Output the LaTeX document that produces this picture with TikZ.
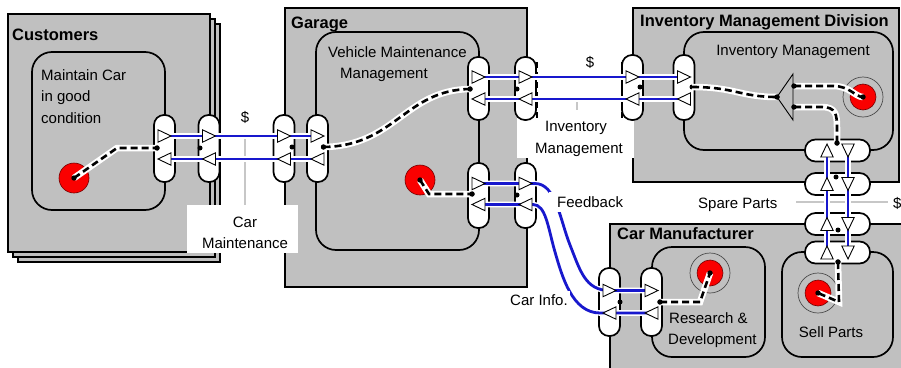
\documentclass[tikz,border=0pt]{standalone}
\usepackage{fontspec}
\setmainfont{Liberation Sans}
\usetikzlibrary{calc}
\definecolor{boxgray}{RGB}{192,192,192}
\definecolor{flowblue}{RGB}{24,24,205}
\definecolor{tgtred}{RGB}{250,0,0}

\begin{document}
\begin{tikzpicture}[x=1pt,y=-1pt,
  orgbox/.style={draw=black, line width=1.7pt, fill=boxgray},
  procbox/.style={draw=black, line width=1.7pt, rounded corners=20pt},
  vport/.style={draw=black, line width=1.7pt, fill=white, rounded corners=10pt,
    minimum width=21pt, inner sep=0pt},
  hport/.style={draw=black, line width=1.7pt, fill=white, rounded corners=10.5pt,
    minimum width=65pt, minimum height=22pt, inner sep=0pt},
  flow/.style={draw=white, double=flowblue, line width=1.4pt, double distance=2.8pt},
  wire/.style={draw=black, line width=2.6pt, dash pattern=on 7pt off 4pt,
    preaction={draw=white, line width=6.5pt, solid}},
  jdot/.style={circle, fill=black, inner sep=0pt, minimum size=5pt},
  tgt/.style={circle, fill=tgtred, draw=red!45!black, line width=0.6pt,
    inner sep=0pt},
  ring/.style={circle, draw=black!70, line width=0.7pt, inner sep=0pt,
    minimum size=40pt},
  title/.style={font=\fontsize{16.5}{20}\selectfont\bfseries, anchor=base west,
    inner sep=0pt},
  lbl/.style={font=\fontsize{15}{18}\selectfont, inner sep=0pt},
  lblbg/.style={fill=white, inner xsep=2pt, inner ysep=3pt},
  lblline/.style={draw=black!22, line width=1.3pt},
  edgedash/.style={draw=black, line width=1.5pt, dash pattern=on 6pt off 4pt},
  dirtip/.pic={\draw[line width=0.9pt, fill=white, line join=miter]
    (6.5,0) -- (-6.5,-6.2) -- (-6.5,6.2) -- cycle;}
]
\useasboundingbox (0,0) rectangle (901,367);

% ---------- organisations ----------
\draw[orgbox] (18,24) rectangle (220,262);
\draw[orgbox] (13,19) rectangle (215,257);
\draw[orgbox] (8,14) rectangle (210,252);
\node[title] (custT) at (12,40) {Customers};
\draw[procbox] (32,52) rectangle (165,210);
\node[lbl, anchor=base west] (cust1) at (41,80) {Maintain Car};
\node[lbl, anchor=base west] (cust2) at (41,101.5) {in good};
\node[lbl, anchor=base west] (cust3) at (41,123) {condition};

\draw[orgbox] (285,8) rectangle (527,287);
\node[title] (garT) at (291,28) {Garage};
\draw[procbox] (316,32) rectangle (479,250);
\node[lbl, anchor=base west] (vmm1) at (328,57) {Vehicle Maintenance};
\node[lbl, anchor=base west] (vmm2) at (340,78) {Management};

\draw[orgbox] (633,8) rectangle (899,182);
\node[title] (invT) at (640,26) {Inventory Management Division};
\draw[procbox] (684,32) rectangle (893,150);
\node[lbl, anchor=base] (invP) at (793,55) {Inventory Management};

\draw[orgbox] (610,224) rectangle (915,380);
\node[title] (manT) at (617,239) {Car Manufacturer};
\draw[procbox] (652,247) rectangle (765,357);
\node[lbl, anchor=base west] (rd1) at (669,323) {Research \&};
\node[lbl, anchor=base west] (rd2) at (668,344) {Development};
\draw[procbox] (782,252) rectangle (893,357);
\node[lbl, anchor=base] (sell) at (831,337) {Sell Parts};

% ---------- flow labels ----------
\fill[white] (187,205) rectangle (298,253);
\fill[white] (517,110) rectangle (634,158);
\draw[lblline] (245,136) -- (245,205);
\draw[lblline] (577,99) -- (577,110);
\draw[lblline] (796,202) -- (888,202);
\node[lbl, anchor=base] (cm1) at (245,227) {Car};
\node[lbl, anchor=base] (cm2) at (245,248) {Maintenance};
\node[lbl, anchor=base] (im1) at (576,131) {Inventory};
\node[lbl, anchor=base] (im2) at (579,153) {Management};
\node[lbl, anchor=base] (cost1) at (245,122) {\$};
\node[lbl, anchor=base] (cost2) at (590,67) {\$};
\node[lbl, anchor=base west] (cost3) at (893,208) {\$};
\node[lbl, anchor=base west] (sp) at (698,208) {Spare Parts};

% ---------- ports ----------
\node[vport, minimum height=67pt] (cp1) at (164.5,148.5) {};
\node[vport, minimum height=67pt] (cp2) at (209,148.5) {};
\node[vport, minimum height=67pt] (gp1) at (284,148.5) {};
\node[vport, minimum height=67pt] (gp2) at (317.5,148.5) {};
\node[vport, minimum height=63pt] (gA) at (478.5,88.5) {};
\node[vport, minimum height=63pt] (gB) at (525.5,88.5) {};
\node[vport, minimum height=65pt] (iE) at (632.5,87.5) {};
\node[vport, minimum height=65pt] (iF) at (684,87.5) {};
\node[vport, minimum height=65pt] (gC) at (478.5,195.5) {};
\node[vport, minimum height=65pt] (gD) at (525.5,195.5) {};
\node[vport, minimum height=68pt] (cH) at (609.5,302) {};
\node[vport, minimum height=68pt] (cI) at (651.5,302) {};
\node[hport] (k1) at (837.5,150.5) {};
\node[hport] (k2) at (837.5,184) {};
\node[hport] (k3) at (837.5,224) {};
\node[hport] (k4) at (837.5,252.5) {};

\draw[edgedash] (537,62) -- (537,119);
\draw[edgedash] (622,62) -- (622,119);

% ---------- material flows ----------
\draw[flow] (cp1 |- 0,136) -- (gp2 |- 0,136);
\draw[flow] (cp1 |- 0,159) -- (gp2 |- 0,159);
\draw[flow] (gA |- 0,77) -- (iF |- 0,77);
\draw[flow] (gA |- 0,99) -- (iF |- 0,99);
\draw[flow] (gC |- 0,183.5) -- (gD |- 0,183.5) -- (535,183.5)
  .. controls (556,183.5) and (560,220) .. (570,245)
  .. controls (580,270) and (585,290.5) .. (cH |- 0,290.5) -- (cI |- 0,290.5);
\draw[flow] (gC |- 0,204.5) -- (gD |- 0,204.5) -- (533,204.5)
  .. controls (546,204.5) and (548,228) .. (555,252)
  .. controls (562,276) and (572,313) .. (600,313) -- (cI |- 0,313);
\draw[flow] (k4 -| 827,0) -- (k1 -| 827,0);
\draw[flow] (k1 -| 848,0) -- (k4 -| 848,0);

% labels lying over the curved flows
\fill[white] (549,192) rectangle (640,212);
\node[lbl, anchor=base west] (fb) at (557,207) {Feedback};
\node[lbl, lblbg, anchor=base west] (ci) at (508,305) {Car Info.};

\foreach \p in {cp1,cp2,gp1,gp2} {
  \pic at (\p |- 0,136) {dirtip};
  \pic[rotate=180] at (\p |- 0,159) {dirtip};
}
\foreach \p in {gA,gB,iE,iF} {
  \pic at (\p |- 0,77) {dirtip};
  \pic[rotate=180] at (\p |- 0,99) {dirtip};
}
\foreach \p in {gC,gD} {
  \pic at (\p |- 0,183.5) {dirtip};
  \pic[rotate=180] at (\p |- 0,204.5) {dirtip};
}
\foreach \p in {cH,cI} {
  \pic at (\p |- 0,290.5) {dirtip};
  \pic[rotate=180] at (\p |- 0,313) {dirtip};
}
\foreach \p in {k1,k2,k3,k4} {
  \pic[rotate=90] at (\p -| 827,0) {dirtip};
  \pic[rotate=-90] at (\p -| 848,0) {dirtip};
}

% ---------- goals ----------
\node[tgt, minimum size=30pt] (ct) at (74,178) {};
\node[tgt, minimum size=30pt] (gt) at (420,180) {};
\node[ring] (itr) at (863,97) {};
\node[tgt, minimum size=26pt] (it) at (863,97) {};
\node[ring] (rtr) at (710,273) {};
\node[tgt, minimum size=26pt] (rt) at (710,273) {};
\node[ring] (str) at (818,293) {};
\node[tgt, minimum size=26pt] (st) at (818,293) {};

% merge point
\draw[line width=0.9pt, fill=boxgray] (777,97) -- (793,74) -- (793,120) -- cycle;

% ---------- connection points ----------
\node[jdot] (dcp1) at (157,148) {};
\node[jdot] (dcp2) at (200,148) {};
\node[jdot] (dgp1) at (292,147) {};
\node[jdot] (dgp2) at (323.5,147) {};
\node[jdot] (dgA) at (470,89) {};
\node[jdot] (dgB) at (517,89) {};
\node[jdot] (diE) at (640,87) {};
\node[jdot] (diF) at (692,87) {};
\node[jdot] (dgC) at (472,194) {};
\node[jdot] (dgD) at (517,195) {};
\node[jdot] (dcH) at (620,302) {};
\node[jdot] (dcI) at (660,302) {};
\node[jdot] (dk1) at (837,143) {};
\node[jdot] (dk2) at (836,177) {};
\node[jdot] (dk3) at (838,230) {};
\node[jdot] (dk4) at (838,262) {};
\node[jdot] (djA) at (777,97) {};
\node[jdot] (djT) at (794,86) {};
\node[jdot] (djB) at (794,107) {};

% ---------- control links ----------
\draw[wire] (ct.center) -- (117,148) -- (dcp1.center);
\draw[wire] (dgp2.center) .. controls (395,146) and (405,90) .. (dgA.center);
\draw[wire] (gt.center) -- (429,194) -- (dgC.center);
\draw[wire] (diF.center) .. controls (735,87) and (740,97) .. (djA.center);
\draw[wire] (djT.center) -- (833,86) .. controls (850,86) and (855,97) .. (it.center);
\draw[wire] (djB.center) -- (822,107) .. controls (836,107) and (837,115) .. (837,128) -- (dk1.center);
\draw[wire] (dk4.center) -- (839,302) -- (st.center);
\draw[wire] (dcI.center) -- (700,302) -- (rt.center);

% dots drawn over the links
\foreach \d in {dcp1,dgp2,dgA,dgC,dcI,dk1,dk4,djA,djT,djB}
  \fill (\d) circle (2.7pt);
\foreach \t in {ct,gt,it,rt,st}
  \fill (\t) circle (2.7pt);
\end{tikzpicture}
\end{document}
